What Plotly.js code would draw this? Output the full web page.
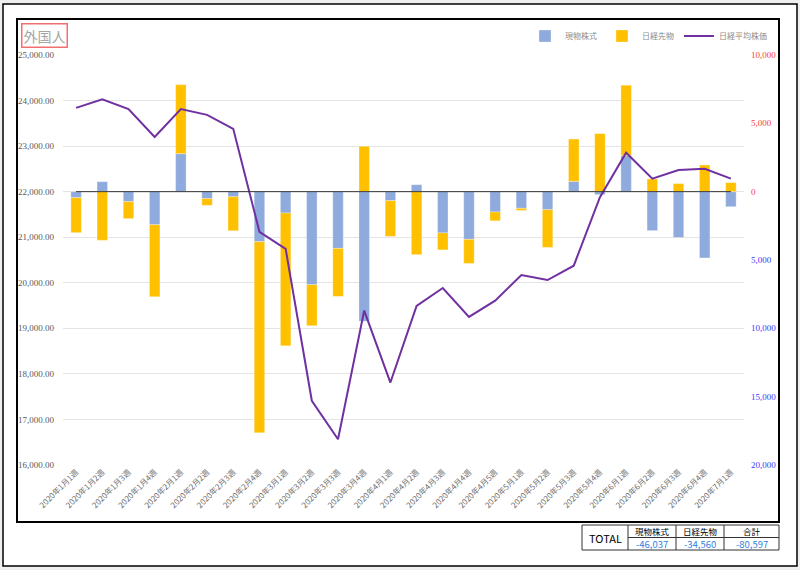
<!DOCTYPE html>
<html><head><meta charset="utf-8">
<script src="https://cdn.plot.ly/plotly-3.0.1.min.js"></script>
<style>html,body{margin:0;padding:0;background:#efefef;}#chart{width:800px;height:570px;}</style>
</head><body><div id="chart"></div>
<script>
const categories = ["2020年1月1週","2020年1月2週","2020年1月3週","2020年1月4週","2020年2月1週","2020年2月2週","2020年2月3週","2020年2月4週","2020年3月1週","2020年3月2週","2020年3月3週","2020年3月4週","2020年4月1週","2020年4月2週","2020年4月3週","2020年4月4週","2020年4月5週","2020年5月1週","2020年5月2週","2020年5月3週","2020年5月4週","2020年6月1週","2020年6月2週","2020年6月3週","2020年6月4週","2020年7月1週"];
const genbutsu = [-440,730,-730,-2420,2780,-510,-370,-3660,-1560,-6810,-4150,-9490,-660,510,-3020,-3490,-1490,-1220,-1320,750,-220,2640,-2850,-3350,-4850,-1100];
const sakimono = [-2560,-3560,-1240,-5270,5050,-490,-2490,-13980,-9720,-3000,-3510,3320,-2610,-4610,-1240,-1760,-640,-150,-2760,3100,4250,5150,930,590,1950,660];
const nikkei = [23840,24030,23815,23200,23815,23686,23380,21120,20745,17410,16565,19390,17810,19490,19886,19250,19607,20171,20060,20375,21880,22856,22285,22476,22504,22285];
const seriesNames = ["現物株式","日経先物","日経平均株価"];
const leftTicks = [16000,17000,18000,19000,20000,21000,22000,23000,24000,25000];
const leftTickText = ["16,000.00","17,000.00","18,000.00","19,000.00","20,000.00","21,000.00","22,000.00","23,000.00","24,000.00","25,000.00"];
const rightTicks = [-20000,-15000,-10000,-5000,0,5000,10000];
const rightTickText = ["20,000","15,000","10,000","5,000","0","5,000","10,000"];
const tableHeaders = ["現物株式","日経先物","合計"];
const tableTotals = ["-46,037","-34,560","-80,597"];

const L=63, R=744, T=55, B=465;
const X = px => (px-L)/(R-L);
const Y = py => (B-py)/(B-T);

const rightColored = rightTickText.map((t,i)=>'<span style="color:'+(rightTicks[i]>=0?'#ff3b3b':'#3b3bff')+'">'+t+'</span>');

const traces = [
  {x:[categories[0]], y:[null], type:'scatter', mode:'lines', xaxis:'x', yaxis:'y', showlegend:false, hoverinfo:'skip'},
  {x:categories, y:genbutsu, type:'bar', name:seriesNames[0], xaxis:'x', yaxis:'y2',
   marker:{color:'#8faadc', line:{color:'rgba(255,255,255,0.6)', width:0.5}}},
  {x:categories, y:sakimono, type:'bar', name:seriesNames[1], xaxis:'x', yaxis:'y2',
   marker:{color:'#ffc000', line:{color:'rgba(255,255,255,0.6)', width:0.5}}},
  {x:categories, y:nikkei, type:'scatter', mode:'lines', name:seriesNames[2], xaxis:'x', yaxis:'y3',
   line:{color:'#7030a0', width:2}}
];

const shapes = [
  {type:'rect', xref:'paper', yref:'paper', x0:X(3), x1:X(797), y0:Y(4), y1:Y(566), line:{color:'#000', width:1.5}, fillcolor:'#fff', layer:'below'},
  {type:'rect', xref:'paper', yref:'paper', x0:X(17), x1:X(779), y0:Y(19), y1:Y(522), line:{color:'#000', width:2}, fillcolor:'rgba(0,0,0,0)', layer:'below'},
  {type:'line', xref:'x', yref:'y2', x0:0, x1:categories.length-1, y0:0, y1:0, line:{color:'#333', width:1}},
  {type:'rect', xref:'paper', yref:'paper', x0:X(582), x1:X(779), y0:Y(525), y1:Y(550), line:{color:'#333', width:1}},
  {type:'line', xref:'paper', yref:'paper', x0:X(628), x1:X(628), y0:Y(525), y1:Y(550), line:{color:'#333', width:1}},
  {type:'line', xref:'paper', yref:'paper', x0:X(676), x1:X(676), y0:Y(525), y1:Y(550), line:{color:'#333', width:1}},
  {type:'line', xref:'paper', yref:'paper', x0:X(724), x1:X(724), y0:Y(525), y1:Y(550), line:{color:'#333', width:1}},
  {type:'line', xref:'paper', yref:'paper', x0:X(628), x1:X(779), y0:Y(537.5), y1:Y(537.5), line:{color:'#333', width:1}}
];

const colCenters = [652, 700, 751.5];
const annotations = [
  {xref:'paper', yref:'paper', x:X(21), y:Y(23), xanchor:'left', yanchor:'top', text:'外国人', showarrow:false,
   font:{size:14, color:'#a6a6a6', family:'Noto Sans CJK JP'}, bordercolor:'#f07070', borderwidth:1.5, borderpad:1},
  {xref:'paper', yref:'paper', x:X(605), y:Y(537.5), xanchor:'center', yanchor:'middle', text:'TOTAL', showarrow:false, font:{size:11, color:'#000'}}
];
tableHeaders.forEach((h,i)=>annotations.push({xref:'paper', yref:'paper', x:X(colCenters[i]), y:Y(531.2), xanchor:'center', yanchor:'middle', text:h, showarrow:false, borderpad:0, font:{size:8.5, color:'#000'}}));
tableTotals.forEach((v,i)=>annotations.push({xref:'paper', yref:'paper', x:X(colCenters[i]), y:Y(544), xanchor:'center', yanchor:'middle', text:v, showarrow:false, borderpad:0, font:{size:9.5, color:'#2f80e0'}}));

const layout = {
  width:800, height:570,
  margin:{l:L, r:800-R, t:T, b:570-B},
  paper_bgcolor:'#efefef', plot_bgcolor:'rgba(0,0,0,0)',
  font:{family:'Noto Sans CJK JP, sans-serif', color:'#595959', size:8},
  barmode:'relative', bargap:0.6,
  showlegend:true,
  legend:{orientation:'h', x:X(772), xanchor:'right', y:Y(36), yanchor:'middle', font:{size:8, color:'#8c8c8c'}, bgcolor:'rgba(0,0,0,0)', itemwidth:30, tracegroupgap:0},
  xaxis:{type:'category', range:[-0.5, categories.length-0.5], tickangle:-45, showgrid:false, zeroline:false, showline:false, ticks:'', tickfont:{size:8, color:'#707070'}, fixedrange:true},
  yaxis:{range:[16000,25000], tickvals:leftTicks, ticktext:leftTickText, showgrid:true, gridcolor:'#e4e4e4', gridwidth:1, zeroline:false, showline:false, side:'left', ticklabelstandoff:8, tickfont:{family:'Liberation Serif, serif', size:9, color:'#595959'}},
  yaxis2:{range:[-20000,10000], overlaying:'y', side:'right', tickvals:rightTicks, ticktext:rightColored, showgrid:false, zeroline:false, showline:false, ticklabelstandoff:6, tickfont:{family:'Liberation Serif, serif', size:9}},
  yaxis3:{range:[16000,25000], overlaying:'y', side:'left', visible:false, showgrid:false, zeroline:false},
  shapes:shapes,
  annotations:annotations
};

Plotly.newPlot('chart', traces, layout, {displayModeBar:false, staticPlot:true});
</script>
</body></html>
